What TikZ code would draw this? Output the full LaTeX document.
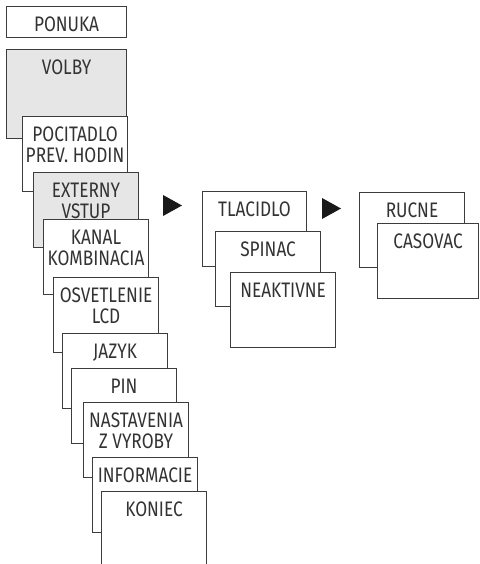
\documentclass[tikz,border=0pt]{standalone}
\usepackage{fontspec}
\newfontfamily\menufont{Fira Sans}[FakeStretch=0.82]
\definecolor{frame}{HTML}{3C3C3C}
\definecolor{shade}{HTML}{E6E6E6}

\begin{document}
\begin{tikzpicture}[x=1pt, y=-1pt, line width=1.1pt,
		box/.style = {draw=frame, fill=white, anchor=north west, minimum width=105pt, minimum height=75pt, inner sep=0pt},
		lbl/.style = {anchor=north, yshift=-10.5pt, inner sep=0pt, align=center, text=black!80, font=\menufont\fontsize{21}{21}\selectfont},
		arr/.style = {fill=black!90}]

		\useasboundingbox (0,0) rectangle (479,564);

		% main menu column
		\node[box, minimum width=120pt, minimum height=31pt, label={[lbl]north:PONUKA}] (ponuka) at (6,6) {};
		\node[box, fill=shade, minimum width=120pt, minimum height=89pt, label={[lbl]north:VOLBY}] (volby) at (6,49) {};
		\node[box, label={[lbl]north:{POCITADLO\\PREV. HODIN}}] (pocitadlo) at (22,116) {};
		\node[box, fill=shade, label={[lbl]north:{EXTERNY\\VSTUP}}] (externy) at (33,172) {};
		\node[box, label={[lbl]north:{KANAL\\KOMBINACIA}}] (kanal) at (43,219) {};
		\node[box, label={[lbl]north:{OSVETLENIE\\LCD}}] (osvetlenie) at (53,277) {};
		\node[box, label={[lbl]north:JAZYK}] (jazyk) at (62,333) {};
		\node[box, label={[lbl]north:PIN}] (pin) at (71,368) {};
		\node[box, label={[lbl]north:{NASTAVENIA\\Z VYROBY}}] (nastavenia) at (83,402) {};
		\node[box, label={[lbl]north:INFORMACIE}] (informacie) at (92,457) {};
		\node[box, minimum height=85pt, label={[lbl]north:KONIEC}] (koniec) at (101,491) {};

		% external input
		\node[box, minimum width=104pt, label={[lbl]north:TLACIDLO}] (tlacidlo) at (202,191) {};
		\node[box, label={[lbl]north:SPINAC}] (spinac) at (215,231) {};
		\node[box, label={[lbl]north:NEAKTIVNE}] (neaktivne) at (230,272) {};

		% button mode
		\node[box, label={[lbl]north:RUCNE}] (rucne) at (359,192) {};
		\node[box, minimum width=101pt, label={[lbl]north:CASOVAC}] (casovac) at (377,223) {};

		\fill[arr] (163,195) -- (182,205.5) -- (163,216) -- cycle;
		\fill[arr] (322,198) -- (341,208.5) -- (322,219) -- cycle;
	\end{tikzpicture}
\end{document}
